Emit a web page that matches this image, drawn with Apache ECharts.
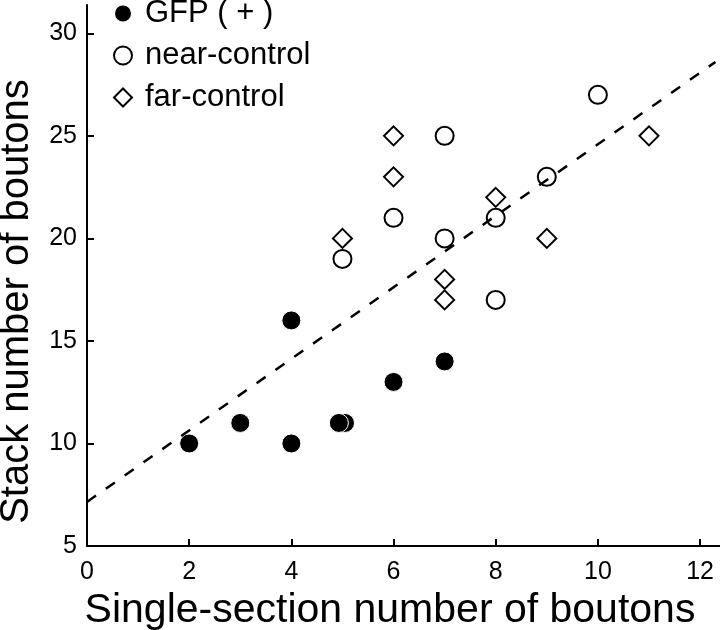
<!DOCTYPE html>
<html>
<head>
<meta charset="utf-8">
<script src="https://cdn.jsdelivr.net/npm/echarts@6/dist/echarts.min.js"></script>
<style>
html, body { margin: 0; padding: 0; background: #fff; }
#container { width: 720px; height: 630px; }
</style>
</head>
<body>
<div id="container"></div>
<script>
// [single-section, stack] pairs
var gfpData = [[2, 10], [3, 11], [4, 16], [4, 10], [5.05, 11], [4.93, 11], [6, 13], [7, 14]];
var nearData = [[5, 19], [6, 21], [7, 25], [7, 20], [8, 21], [8, 17], [9, 23], [10, 27]];
var farData = [[5, 20], [6, 25], [6, 23], [7, 18], [7, 17], [8, 22], [9, 20], [11, 25]];
var fitLine = [[0, 7.15], [12.3, 28.6]];

var xTicks = [0, 2, 4, 6, 8, 10, 12];
var yTicks = [5, 10, 15, 20, 25, 30];
var seriesNames = ['GFP ( + )', 'near-control', 'far-control'];

var font = 'Liberation Sans, Arial, Helvetica, sans-serif';

var myChart = echarts.init(document.getElementById('container'));

var option = {
	animation: false,
	backgroundColor: '#fff',
	grid: {
		left: 87,
		right: 0,
		top: 5,
		bottom: 84,
		containLabel: false,
		outerBoundsMode: 'none'
	},
	legend: {
		data: seriesNames,
		orient: 'vertical',
		left: 113,
		top: -2,
		padding: 0,
		itemGap: 11,
		itemWidth: 18,
		itemHeight: 18,
		textStyle: {
			fontFamily: font,
			fontSize: 31,
			color: '#000',
			padding: [0, 0, 0, 8]
		}
	},
	xAxis: {
		type: 'value',
		min: 0,
		max: 12.39,
		name: 'Single-section number of boutons',
		nameLocation: 'middle',
		nameGap: 44,
		nameTextStyle: {
			fontFamily: font,
			fontSize: 41,
			color: '#000',
			padding: [0, 27, 0, 0]
		},
		splitLine: { show: false },
		axisLine: { lineStyle: { color: '#000', width: 2 } },
		axisTick: {
			inside: true,
			length: 7,
			customValues: xTicks,
			lineStyle: { color: '#000', width: 2 }
		},
		axisLabel: {
			customValues: xTicks,
			margin: 14,
			fontFamily: font,
			fontSize: 25,
			color: '#000'
		}
	},
	yAxis: {
		type: 'value',
		min: 5,
		max: 31.38,
		name: 'Stack number of boutons',
		nameLocation: 'middle',
		nameGap: 50,
		nameTextStyle: {
			fontFamily: font,
			fontSize: 40,
			color: '#000',
			padding: [0, 52, 0, 0]
		},
		splitLine: { show: false },
		axisLine: { lineStyle: { color: '#000', width: 2 } },
		axisTick: {
			inside: true,
			length: 7,
			customValues: yTicks,
			lineStyle: { color: '#000', width: 2 }
		},
		axisLabel: {
			customValues: yTicks,
			margin: 10,
			fontFamily: font,
			fontSize: 25,
			color: '#000'
		}
	},
	series: [
		{
			name: seriesNames[0],
			type: 'scatter',
			symbol: 'circle',
			symbolSize: 19,
			itemStyle: { color: '#000', borderColor: '#fff', borderWidth: 1, opacity: 1 },
			data: gfpData
		},
		{
			name: seriesNames[1],
			type: 'scatter',
			symbol: 'circle',
			symbolSize: 18,
			itemStyle: { color: 'rgba(255,255,255,0)', borderColor: '#000', borderWidth: 2, opacity: 1 },
			data: nearData
		},
		{
			name: seriesNames[2],
			type: 'scatter',
			symbol: 'diamond',
			symbolSize: 19,
			itemStyle: { color: 'rgba(255,255,255,0)', borderColor: '#000', borderWidth: 2, opacity: 1 },
			data: farData
		},
		{
			name: 'fit',
			type: 'line',
			symbol: 'none',
			silent: true,
			lineStyle: { color: '#000', width: 2.5, type: [11, 12] },
			data: fitLine
		}
	]
};

myChart.setOption(option);
</script>
</body>
</html>
